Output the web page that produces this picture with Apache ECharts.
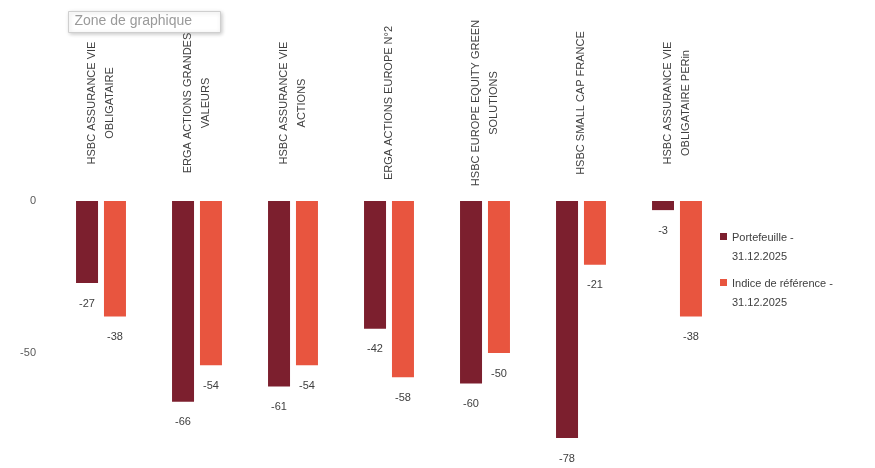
<!DOCTYPE html>
<html>
<head>
<meta charset="utf-8">
<script src="https://cdn.jsdelivr.net/npm/echarts@6/dist/echarts.min.js"></script>
<style>
  html, body { margin: 0; padding: 0; background: #fff; }
  #chart { width: 875px; height: 468px; }
</style>
</head>
<body>
<div id="chart"></div>
<script>
const categories = [
  "HSBC ASSURANCE VIE\nOBLIGATAIRE",
  "ERGA ACTIONS GRANDES\nVALEURS",
  "HSBC ASSURANCE VIE\nACTIONS",
  "ERGA ACTIONS EUROPE N°2",
  "HSBC EUROPE EQUITY GREEN\nSOLUTIONS",
  "HSBC SMALL CAP FRANCE",
  "HSBC ASSURANCE VIE\nOBLIGATAIRE PERin"
];
const seriesNames = ["Portefeuille -\n31.12.2025", "Indice de référence -\n31.12.2025"];
const portefeuille = [-27, -66, -61, -42, -60, -78, -3];
const indice = [-38, -54, -54, -58, -50, -21, -38];
const yTicks = { min: -100, max: 0, interval: 50 };

const colors = ['#7C1F2E', '#E8553F'];
const font = 'Liberation Sans, Arial, sans-serif';
const legendIcon = 'path://M0,0h0.01v0.01h-0.01z M0,5h7v7h-7z M0,38h0.01v0.01h-0.01z';

const chart = echarts.init(document.getElementById('chart'), null, { renderer: 'canvas' });
const labelCfg = {
  show: true,
  position: 'bottom',
  distance: 15,
  fontSize: 11,
  fontFamily: font,
  color: '#404040'
};
chart.setOption({
  animation: false,
  textStyle: { fontFamily: font },
  grid: { left: 53, top: 201, width: 672, height: 304, containLabel: false, outerBoundsMode: 'none' },
  xAxis: {
    type: 'category',
    position: 'top',
    data: categories,
    axisLine: { show: false },
    axisTick: { show: false },
    axisLabel: {
      interval: 0,
      rotate: 90,
      align: 'center',
      margin: 98,
      fontSize: 11,
      lineHeight: 18,
      fontFamily: font,
      color: '#404040'
    }
  },
  yAxis: {
    type: 'value',
    min: yTicks.min,
    max: yTicks.max,
    interval: yTicks.interval,
    axisLine: { show: false },
    axisTick: { show: false },
    splitLine: { show: false },
    axisLabel: { margin: 17, fontSize: 11, fontFamily: font, color: '#595959' }
  },
  legend: {
    orient: 'vertical',
    left: 720,
    top: 228,
    padding: 0,
    itemGap: 8,
    itemWidth: 7,
    itemHeight: 38,
    align: 'left',
    textStyle: { fontSize: 11, lineHeight: 19, fontFamily: font, color: '#404040' },
    data: [
      { name: seriesNames[0], icon: legendIcon },
      { name: seriesNames[1], icon: legendIcon }
    ]
  },
  graphic: [{
    type: 'group',
    left: 68,
    top: 11,
    children: [
      {
        type: 'rect',
        shape: { x: 0, y: 0, width: 152, height: 21 },
        style: { fill: '#ffffff', stroke: '#cfcfcf', lineWidth: 1, shadowBlur: 4, shadowColor: 'rgba(0,0,0,0.2)', shadowOffsetX: 1, shadowOffsetY: 1 }
      },
      {
        type: 'text',
        x: 6,
        y: 3,
        style: { text: 'Zone de graphique', fontSize: 14, fontFamily: font, fill: '#9a9a9a' }
      }
    ]
  }],
  series: [
    {
      name: seriesNames[0],
      type: 'bar',
      data: portefeuille,
      barWidth: 22,
      barGap: '27%',
      itemStyle: { color: colors[0] },
      label: labelCfg
    },
    {
      name: seriesNames[1],
      type: 'bar',
      data: indice,
      barWidth: 22,
      barGap: '27%',
      itemStyle: { color: colors[1] },
      label: labelCfg
    }
  ]
});
</script>
</body>
</html>
